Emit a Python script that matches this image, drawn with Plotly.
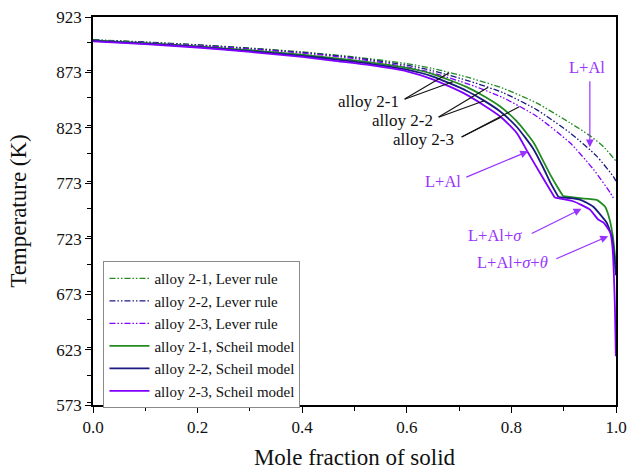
import numpy as np
import plotly.graph_objects as go

# ---- data: mole fraction of solid vs temperature (K) ----
lever_x_21 = [0.0, 0.1, 0.2, 0.3, 0.4, 0.5, 0.6, 0.65, 0.721, 0.785, 0.848, 0.912, 0.95, 0.976, 1.0]
lever_t_21 = [902.5, 900.5, 898.0, 895.0, 891.5, 887.0, 881.0, 876.5, 868.0, 858.5, 845.5, 827.5, 816.0, 806.0, 793.0]

lever_x_22 = [0.0, 0.1, 0.2, 0.3, 0.4, 0.5, 0.6, 0.65, 0.721, 0.785, 0.848, 0.912, 0.963, 0.995, 1.0]
lever_t_22 = [902.3, 900.2, 897.7, 894.6, 891.0, 886.3, 879.5, 874.5, 865.0, 854.5, 839.5, 818.5, 797.5, 779.0, 775.0]

lever_x_23 = [0.0, 0.1, 0.2, 0.3, 0.4, 0.5, 0.6, 0.65, 0.721, 0.785, 0.848, 0.912, 0.957, 0.989, 0.997]
lever_t_23 = [902.0, 899.9, 897.3, 894.1, 890.4, 885.5, 878.0, 872.5, 862.0, 850.0, 833.5, 809.5, 785.5, 764.5, 758.0]

# Scheil curves: primary solidification up to the eutectic kink, then the multi-phase tail
scheil_x_21 = [0.0, 0.1, 0.2, 0.3, 0.4, 0.47, 0.53, 0.6, 0.65, 0.714, 0.746, 0.778, 0.81, 0.842, 0.861, 0.874,
               0.89, 0.899, 0.931, 0.963, 0.979, 0.988, 0.994, 0.998, 1.0]
scheil_t_21 = [902.0, 899.5, 896.5, 893.0, 889.0, 885.5, 882.0, 877.0, 871.5, 860.0, 852.0, 842.5, 829.0, 810.0,
               793.0, 781.0, 768.0, 761.3, 759.5, 758.0, 752.0, 740.0, 725.0, 708.0, 700.0]
kink_21 = 17

scheil_x_22 = [0.0, 0.1, 0.2, 0.3, 0.4, 0.47, 0.53, 0.6, 0.65, 0.714, 0.746, 0.778, 0.81, 0.842, 0.861, 0.874,
               0.89, 0.931, 0.956, 0.973, 0.982, 0.992, 0.997, 1.0]
scheil_t_22 = [901.5, 899.0, 896.0, 892.2, 888.0, 884.3, 880.8, 875.5, 869.3, 856.5, 848.0, 838.0, 824.0, 804.0,
               787.0, 774.0, 760.5, 758.3, 752.0, 743.0, 737.6, 725.0, 705.0, 690.0]
kink_22 = 16

scheil_x_23 = [0.0, 0.1, 0.2, 0.3, 0.4, 0.47, 0.53, 0.6, 0.651, 0.714, 0.778, 0.81, 0.832, 0.855, 0.883,
               0.918, 0.95, 0.966, 0.976, 0.989, 0.9935, 0.998, 0.9997]
scheil_t_23 = [901.0, 898.5, 895.5, 891.5, 887.0, 883.0, 879.5, 874.0, 866.5, 853.0, 833.5, 818.5, 800.5, 782.0,
               760.0, 756.8, 749.3, 740.3, 737.6, 728.6, 714.0, 660.0, 617.0]
kink_23 = 14

y_ticks = [573, 623, 673, 723, 773, 823, 873, 923]
x_ticks = [0.0, 0.2, 0.4, 0.6, 0.8, 1.0]

GREEN = "#228B22"
NAVY = "#1A1A80"
PURPLE = "#8000FF"
NOTE = "#9933FF"
FONT = "Liberation Serif"
DASHDOTDOT = "6px,2px,1.5px,2px,1.5px,2px"

fig = go.Figure()

lever = [(lever_x_21, lever_t_21, GREEN, "alloy 2-1, Lever rule"),
         (lever_x_22, lever_t_22, NAVY, "alloy 2-2, Lever rule"),
         (lever_x_23, lever_t_23, PURPLE, "alloy 2-3, Lever rule")]
scheil = [(scheil_x_21, scheil_t_21, kink_21, GREEN, "alloy 2-1, Scheil model"),
          (scheil_x_22, scheil_t_22, kink_22, NAVY, "alloy 2-2, Scheil model"),
          (scheil_x_23, scheil_t_23, kink_23, PURPLE, "alloy 2-3, Scheil model")]

for xs, ts, col, name in lever:
    fig.add_trace(go.Scatter(x=xs, y=ts, mode="lines", name=name,
                             line=dict(color=col, width=1.3, dash=DASHDOTDOT, shape="spline", smoothing=0.6)))
for xs, ts, k, col, name in scheil:
    # smooth primary branch and tail drawn separately so the kink stays sharp
    fig.add_trace(go.Scatter(x=xs[:k + 1], y=ts[:k + 1], mode="lines", name=name, legendgroup=name,
                             line=dict(color=col, width=1.8, shape="spline", smoothing=0.6)))
    fig.add_trace(go.Scatter(x=xs[k:], y=ts[k:], mode="lines", name=name, legendgroup=name, showlegend=False,
                             line=dict(color=col, width=1.8, shape="spline", smoothing=0.5)))


def on_curve(xs, ts, x):
    return float(np.interp(x, xs, ts))


annotations = []

# black leader lines from each alloy label to its lever and Scheil curves
labels = [
    ("alloy 2-1", 0.526, 846.5, 0.593, 848.3, [(lever_x_21, lever_t_21, 0.681), (scheil_x_21, scheil_t_21, 0.688)]),
    ("alloy 2-2", 0.592, 829.9, 0.658, 832.0, [(lever_x_22, lever_t_22, 0.755), (scheil_x_22, scheil_t_22, 0.748)]),
    ("alloy 2-3", 0.632, 812.3, 0.702, 814.0, [(lever_x_23, lever_t_23, 0.815), (scheil_x_23, scheil_t_23, 0.780)]),
]
for text, tx, ty, sx, sy, targets in labels:
    annotations.append(dict(x=tx, y=ty, text=text, showarrow=False, xanchor="center", yanchor="middle",
                            font=dict(family=FONT, size=17, color="#111111")))
    for xs, ts, px in targets:
        annotations.append(dict(x=px, y=on_curve(xs, ts, px), ax=sx, ay=sy, axref="x", ayref="y",
                                text="", showarrow=True, arrowhead=0, arrowwidth=1.1, arrowcolor="#111111"))

# phase-region labels with arrows
notes = [
    ("L+Al", 0.945, 877.0, 0.95, 866.3, 0.95, 805.5),
    ("L+Al", 0.669, 775.0, 0.711, 778.0, 0.832, 801.8),
    ("L+Al+<i>σ</i>", 0.769, 726.0, 0.836, 727.0, 0.934, 750.0),
    ("L+Al+<i>σ</i>+<i>θ</i>", 0.803, 701.6, 0.883, 704.3, 0.985, 725.3),
]
for text, tx, ty, sx, sy, hx, hy in notes:
    annotations.append(dict(x=tx, y=ty, text=text, showarrow=False, xanchor="center", yanchor="middle",
                            font=dict(family=FONT, size=16.5, color=NOTE)))
    annotations.append(dict(x=hx, y=hy, ax=sx, ay=sy, axref="x", ayref="y", text="", showarrow=True,
                            arrowhead=2, arrowsize=1.3, arrowwidth=1.2, arrowcolor=NOTE))

fig.update_layout(
    width=629, height=470,
    margin=dict(l=93, r=13, t=17, b=65),
    paper_bgcolor="white", plot_bgcolor="white",
    font=dict(family=FONT, color="#111111"),
    showlegend=True,
    legend=dict(x=0.02, y=0.371, xanchor="left", yanchor="top",
                bgcolor="white", bordercolor="#8a8a8a", borderwidth=1,
                font=dict(family=FONT, size=15, color="#111111"),
                itemwidth=40, tracegroupgap=0),
    annotations=annotations,
    xaxis=dict(range=[0, 1], tickvals=x_ticks, tickformat=".1f", automargin=False,
               ticks="outside", ticklen=6, tickwidth=1.3, tickcolor="black",
               minor=dict(dtick=0.1, ticks="outside", ticklen=4, tickwidth=1.2, tickcolor="black"),
               showline=True, linecolor="black", linewidth=1.6, mirror=True,
               showgrid=False, zeroline=False,
               tickfont=dict(family=FONT, size=17, color="#111111"),
               title=dict(text="Mole fraction of solid", font=dict(family=FONT, size=23, color="#111111"),
                          standoff=13)),
    yaxis=dict(range=[573, 923], tickvals=y_ticks, automargin=False,
               ticks="outside", ticklen=6, tickwidth=1.3, tickcolor="black",
               minor=dict(dtick=25, ticks="outside", ticklen=4, tickwidth=1.2, tickcolor="black"),
               showline=True, linecolor="black", linewidth=1.6, mirror=True,
               showgrid=False, zeroline=False,
               tickfont=dict(family=FONT, size=17, color="#111111"),
               title=dict(text="Temperature (K)", font=dict(family=FONT, size=23, color="#111111"),
                          standoff=23)),
)

fig.write_html("out.html")
